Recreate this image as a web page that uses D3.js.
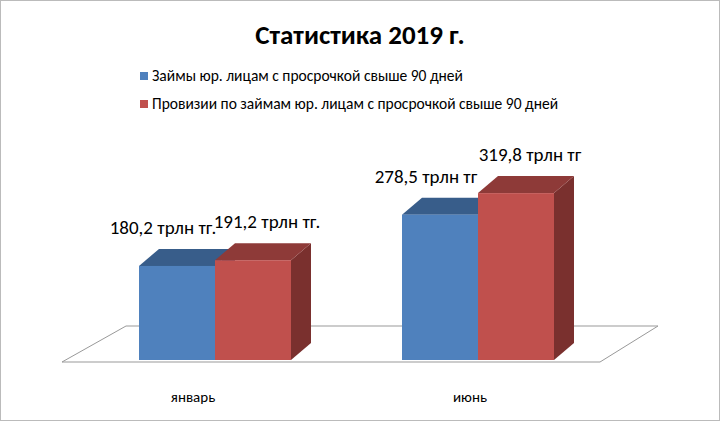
<!DOCTYPE html>
<html><head><meta charset="utf-8">
<script src="https://cdn.jsdelivr.net/npm/d3@7"></script>
<style>body{margin:0;background:#fff}svg{font-family:Carlito,"Open Sans","Liberation Sans",sans-serif}</style>
</head><body><svg width="720" height="421"></svg>
<script>
var months = ["январь", "июнь"];
var seriesNames = ["Займы юр. лицам с просрочкой свыше 90 дней", "Провизии по займам юр. лицам с просрочкой свыше 90 дней"];
var loans = [180.2, 278.5];
var provisions = [191.2, 319.8];
var labels = [["180,2 трлн тг.", "278,5 трлн тг"], ["191,2 трлн тг.", "319,8 трлн тг"]];
var colors = [{front: "#4F81BD", top: "#385D8A", side: "#2F4F78"}, {front: "#C0504D", top: "#8E3A38", side: "#7A302E"}];

var svg = d3.select("svg");
svg.append("rect").attr("x", 0.5).attr("y", 0.5).attr("width", 719).attr("height", 420).attr("fill", "#fff").attr("stroke", "#bbb");

svg.append("text").attr("x", 360).attr("y", 44).attr("text-anchor", "middle")
	.attr("font-size", 27).attr("font-weight", "bold").text("Статистика 2019 г.");

seriesNames.forEach(function(n, i) {
	svg.append("rect").attr("x", 140).attr("y", 72 + i * 28).attr("width", 8).attr("height", 8).attr("fill", colors[i].front);
	svg.append("text").attr("x", 152).attr("y", 81 + i * 28).attr("font-size", 15.5).text(n);
});

var dx = 20, dy = -17, bw = 76;
var x = d3.scalePoint().domain(months).range([215, 478]);
var y = d3.scaleLinear().domain([0, 320]).range([360, 193]);

// floor
svg.append("path").attr("fill", "#fff").attr("stroke", "#999")
	.attr("d", "M62,362 L600,362 L658,326 L126,326 Z");

var series = [loans, provisions];
series.forEach(function(vals, s) {
	var g = svg.append("g");
	months.forEach(function(m, i) {
		var x0 = x(m) + (s - 1) * bw, x1 = x0 + bw, yt = y(vals[i]), yb = y(0);
		g.append("path").attr("fill", colors[s].side)
			.attr("d", "M" + x1 + "," + yb + "L" + (x1 + dx) + "," + (yb + dy) + "L" + (x1 + dx) + "," + (yt + dy) + "L" + x1 + "," + yt + "Z");
		g.append("path").attr("fill", colors[s].top)
			.attr("d", "M" + x0 + "," + yt + "L" + (x0 + dx) + "," + (yt + dy) + "L" + (x1 + dx) + "," + (yt + dy) + "L" + x1 + "," + yt + "Z");
		g.append("rect").attr("x", x0).attr("y", yt).attr("width", bw).attr("height", yb - yt).attr("fill", colors[s].front);
		svg.append("text").attr("x", x0 + bw / 2 + (s === 0 ? -14 : 14)).attr("y", yt - 32)
			.attr("text-anchor", "middle").attr("font-size", 19).text(labels[s][i]);
	});
});

months.forEach(function(m) {
	svg.append("text").attr("x", x(m) - 22 + (m === "июнь" ? 14 : 0)).attr("y", 402).attr("text-anchor", "middle")
		.attr("font-size", 15).text(m);
});
</script></body></html>
